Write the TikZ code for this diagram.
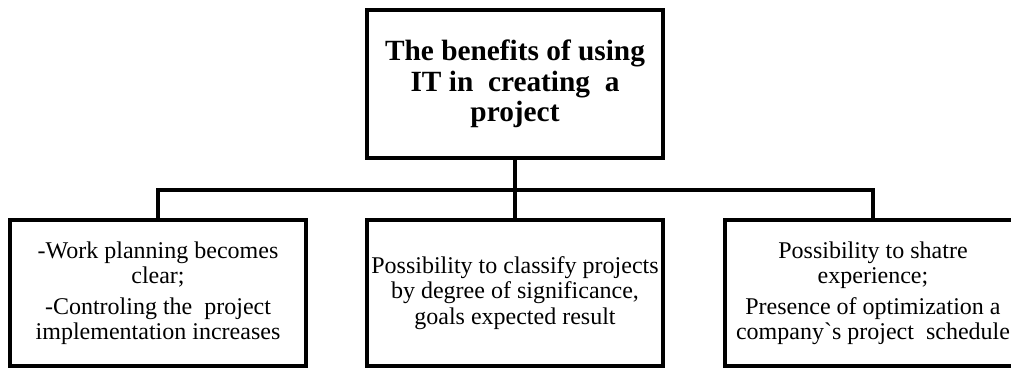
\documentclass[tikz,border=0pt]{standalone}
\usepackage{fontspec}
\setmainfont{Liberation Serif}
\begin{document}
\begin{tikzpicture}[x=0.75pt,y=0.75pt]

\definecolor{def_node_fill}{RGB}{255,255,255}
\definecolor{def_node_text}{RGB}{0,0,0}
\definecolor{def_node_draw}{RGB}{0,0,0}
\tikzstyle{default_node_style}=[draw=def_node_draw,fill=def_node_fill,text=def_node_text,line width = 3pt,align=center,inner sep=0pt]
\tikzstyle{title_node_style}=[default_node_style,minimum width=222pt,minimum height=111pt,font=\fontsize{22}{23}\selectfont\bfseries]
\tikzstyle{leaf_node_style}=[default_node_style,minimum width=222pt,minimum height=109.5pt,font=\fontsize{18}{19}\selectfont]

\definecolor{def_edge_draw}{RGB}{0,0,0}
\tikzstyle{default_edge_style}=[draw=def_edge_draw, line width = 2.5pt]

\useasboundingbox (0,0) rectangle (1011,-368);

\node(benefits) at (515,-84) [rectangle,title_node_style] {The benefits of using\\IT in\ \ creating\ \ a\\project};

\node(planning) at (158,-293) [rectangle,leaf_node_style] {-Work planning becomes\\clear;\\[4pt]-Controling the\ \ project\\implementation increases};

\node(classify) at (515,-293) [rectangle,leaf_node_style] {Possibility to classify projects\\by degree of significance,\\goals expected result};

\node(experience) at (873,-293) [rectangle,leaf_node_style] {Possibility to shatre\\experience;\\[4pt]Presence of optimization a\\company\textasciigrave s project\ \ schedule};

\coordinate(split) at (515,-190);

\draw[default_edge_style](benefits) -- (split);
\draw[default_edge_style](split) -- (classify);
\draw[default_edge_style](planning) |- (split);
\draw[default_edge_style](split) -| (experience);

\end{tikzpicture}
\end{document}
